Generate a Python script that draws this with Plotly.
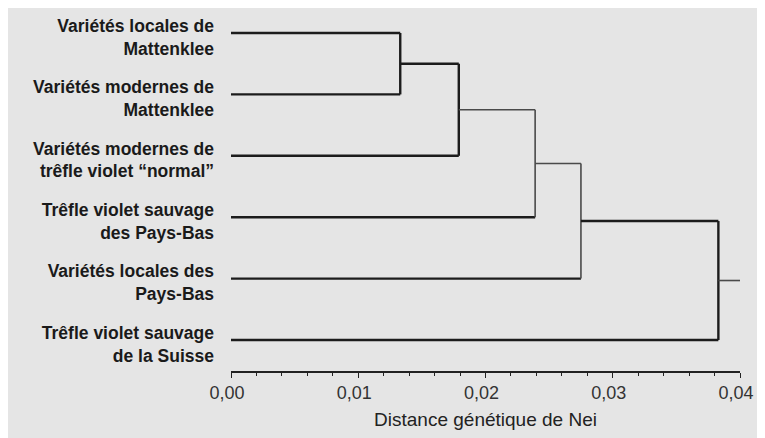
import plotly.graph_objects as go

# ---- data ----
leaves = [
    "Variétés locales de<br>Mattenklee",
    "Variétés modernes de<br>Mattenklee",
    "Variétés modernes de<br>trêfle violet “normal”",
    "Trêfle violet sauvage<br>des Pays-Bas",
    "Variétés locales des<br>Pays-Bas",
    "Trêfle violet sauvage<br>de la Suisse",
]
# successive merges (ladder tree): each joins the current cluster with the next leaf
merge_heights = [0.0133, 0.0179, 0.0239, 0.0275, 0.0383]
root_height = 0.040
x_ticks = [0.00, 0.01, 0.02, 0.03, 0.04]
x_title = "Distance génétique de Nei"

# ---- build dendrogram segments through data coordinates ----
FONT = "Liberation Sans, Arial, sans-serif"
thick = dict(color="#1c1c1c", width=2.4)
thin = dict(color="#4a4a4a", width=1.6)

segs = []  # (xs, ys, style)
leaf_y = list(range(len(leaves)))
cur_x, cur_y = 0.0, leaf_y[0]
for i, h in enumerate(merge_heights):
    ny = leaf_y[i + 1]
    segs.append(([cur_x, h], [cur_y, cur_y], thick if i in (0, 1, 4) else thin))
    segs.append(([0.0, h], [ny, ny], thick))
    segs.append(([h, h], [cur_y, ny], thin if i in (2, 3) else thick))
    cur_x, cur_y = h, (cur_y + ny) / 2
segs.append(([cur_x, root_height], [cur_y, cur_y], thin))

fig = go.Figure()
for xs, ys, st in segs:
    fig.add_trace(go.Scatter(x=xs, y=ys, mode="lines", line=st,
                             hoverinfo="skip", showlegend=False))

# geometry (page has an 8px body margin)
W, H = 757, 430
ML, MR, MT, MB = 223, 25, 0, 67
pw, ph = W - ML - MR, H - MT - MB
leaf_px = 61.4      # vertical spacing between leaves, px
first_leaf_px = 25  # first leaf from plot top, px
y_top = -first_leaf_px / leaf_px
y_bot = y_top + ph / leaf_px

def px2paperx(px):
    return (px - ML) / pw

def py2papery(py):
    return (H - MB - py) / ph

fig.add_shape(type="rect", xref="paper", yref="paper",
              x0=px2paperx(-10), x1=px2paperx(755),
              y0=py2papery(H + 10), y1=py2papery(-10),
              fillcolor="#e5e5e5", line_width=0, layer="below")

fig.update_layout(
    width=W, height=H,
    margin=dict(l=ML, r=MR, t=MT, b=MB, pad=0),
    paper_bgcolor="white",
    plot_bgcolor="rgba(0,0,0,0)",
    separators=", ",
    font=dict(family=FONT, color="#222"),
    xaxis=dict(
        range=[0, root_height], tickvals=x_ticks, tickformat=".2f",
        showgrid=False, zeroline=False, showline=True,
        linecolor="#222", linewidth=1.5, mirror=False,
        ticks="outside", ticklen=5, tickcolor="#222", tickwidth=1.2,
        minor=dict(dtick=0.002, ticks="outside", ticklen=3,
                   tickcolor="#222", tickwidth=1, showgrid=False),
        tickfont=dict(size=18, color="#333", family=FONT),
        ticklabelshift=-4,
        title=dict(text=x_title, font=dict(size=19, color="#222", family=FONT),
                   standoff=10),
        fixedrange=True,
    ),
    yaxis=dict(
        range=[y_bot, y_top],
        tickvals=leaf_y, ticktext=leaves,
        showgrid=False, zeroline=False, showline=False, ticks="",
        ticklabelstandoff=16,
        ticklabelshift=-4,
        tickfont=dict(size=17.5, color="#1a1a1a", family=FONT, weight="bold"),
        fixedrange=True,
    ),
)

fig.write_html("out.html")
